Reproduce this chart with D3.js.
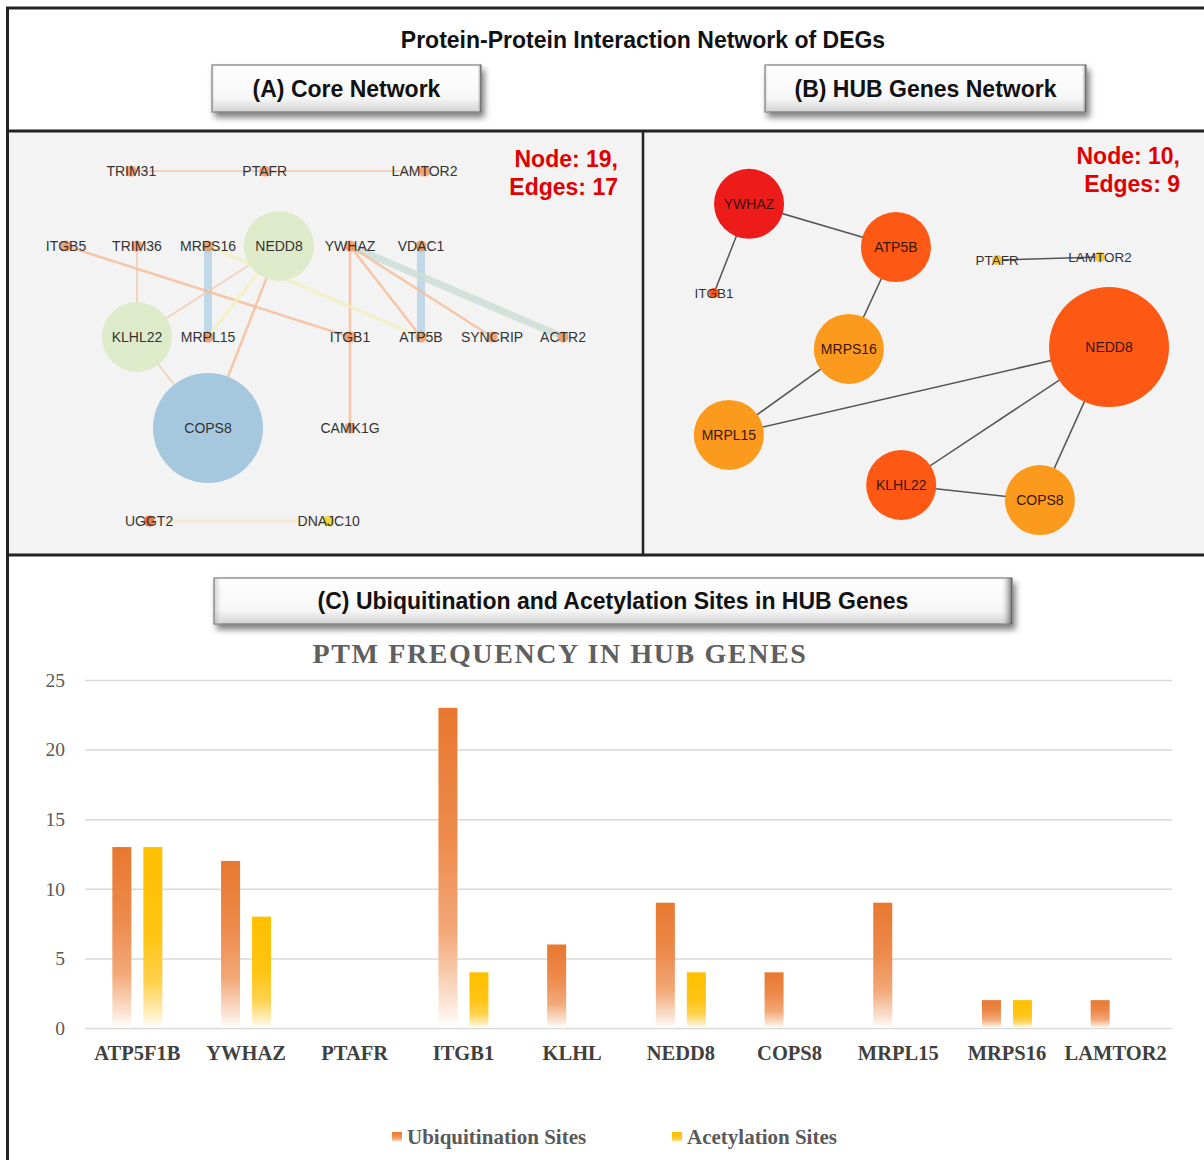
<!DOCTYPE html>
<html>
<head>
<meta charset="utf-8">
<script src="https://cdn.jsdelivr.net/npm/d3@7"></script>
<style>
  body { margin: 0; background: #fff; }
  svg { display: block; }
</style>
</head>
<body>
<svg id="fig" width="1204" height="1160"></svg>
<script>
// ---- data ----
// (A) core network: [name, column, row, group, weight]
var coreNodes = [
    ["TRIM31", 0.92, 0, "gene", 1], ["PTAFR", 2.8, 0, "gene", 1], ["LAMTOR2", 5.05, 0, "gene", 1],
    ["ITGB5", 0, 1, "gene", 1], ["TRIM36", 1, 1, "gene", 1], ["MRPS16", 2, 1, "gene", 1],
    ["NEDD8", 3, 1, "cluster", 2], ["YWHAZ", 4, 1, "gene", 1], ["VDAC1", 5, 1, "gene", 1],
    ["KLHL22", 1, 2, "cluster", 2], ["MRPL15", 2, 2, "gene", 1], ["ITGB1", 4, 2, "gene", 1],
    ["ATP5B", 5, 2, "gene", 1], ["SYNCRIP", 6, 2, "gene", 1], ["ACTR2", 7, 2, "gene", 1],
    ["COPS8", 2, 3, "seed", 3], ["CAMK1G", 4, 3, "gene", 1],
    ["UGGT2", 1.17, 4, "gene2", 1], ["DNAJC10", 3.7, 4, "minor", 1]
];
// [source, target, kind]
var coreEdges = [
    ["TRIM31", "PTAFR", "pale"], ["PTAFR", "LAMTOR2", "pale"],
    ["TRIM36", "KLHL22", "pale"], ["MRPS16", "MRPL15", "blue"],
    ["VDAC1", "ATP5B", "blue"], ["YWHAZ", "ACTR2", "green"],
    ["ITGB5", "ITGB1", "orange"], ["YWHAZ", "ITGB1", "orange"],
    ["ITGB1", "CAMK1G", "orange"], ["YWHAZ", "ATP5B", "orange"],
    ["YWHAZ", "SYNCRIP", "orange"], ["NEDD8", "KLHL22", "pale"],
    ["NEDD8", "COPS8", "orange"], ["KLHL22", "COPS8", "pale"],
    ["MRPS16", "ATP5B", "yellow"], ["MRPL15", "NEDD8", "yellow"],
    ["UGGT2", "DNAJC10", "cream"]
];

// (B) hub network: [name, layoutX, layoutY, rank]
var hubNodes = [
    ["YWHAZ", 12.3, 9.4, 1], ["ATP5B", 42.9, 21.4, 2], ["NEDD8", 87.3, 49.2, 3],
    ["KLHL22", 44, 87.5, 4], ["ITGB1", 5, 34.2, 5], ["MRPS16", 33.1, 49.7, 6],
    ["MRPL15", 8.1, 73.6, 7], ["COPS8", 72.9, 91.7, 8],
    ["PTAFR", 64, 25, 9], ["LAMTOR2", 85.4, 24.2, 10]
];
var hubEdges = [
    ["YWHAZ", "ATP5B"], ["YWHAZ", "ITGB1"], ["ATP5B", "MRPS16"], ["MRPS16", "MRPL15"],
    ["MRPL15", "NEDD8"], ["NEDD8", "KLHL22"], ["NEDD8", "COPS8"], ["KLHL22", "COPS8"],
    ["PTAFR", "LAMTOR2"]
];

// (C) PTM frequency
var genes = ["ATP5F1B", "YWHAZ", "PTAFR", "ITGB1", "KLHL", "NEDD8", "COPS8", "MRPL15", "MRPS16", "LAMTOR2"];
var ubiquitination = [13, 12, 0, 23, 6, 9, 4, 9, 2, 2];
var acetylation = [13, 8, 0, 4, 0, 4, 0, 0, 2, 0];
var seriesNames = ["Ubiquitination Sites", "Acetylation Sites"];
var yTicks = [0, 5, 10, 15, 20, 25];

var sans = "'Liberation Sans', Arial, sans-serif";
var serif = "'Liberation Serif', 'Times New Roman', serif";

var svg = d3.select("#fig");
var defs = svg.append("defs");

// drop shadow for the title buttons
var f = defs.append("filter").attr("id", "shadow")
    .attr("x", "-5%").attr("y", "-20%").attr("width", "115%").attr("height", "170%");
f.append("feDropShadow").attr("dx", 3).attr("dy", 5).attr("stdDeviation", 3)
    .attr("flood-color", "#000").attr("flood-opacity", 0.5);

var bg = defs.append("linearGradient").attr("id", "btn").attr("x1", 0).attr("y1", 0).attr("x2", 0).attr("y2", 1);
bg.append("stop").attr("offset", 0).attr("stop-color", "#ffffff");
bg.append("stop").attr("offset", 0.7).attr("stop-color", "#f7f7f7");
bg.append("stop").attr("offset", 1).attr("stop-color", "#d2d2d2");
var bs = defs.append("linearGradient").attr("id", "btnside").attr("x1", 0).attr("y1", 0).attr("x2", 1).attr("y2", 0);
bs.append("stop").attr("offset", 0).attr("stop-color", "#9a9a9a").attr("stop-opacity", 0.55);
bs.append("stop").attr("offset", 0.012).attr("stop-color", "#fff").attr("stop-opacity", 0);
bs.append("stop").attr("offset", 0.985).attr("stop-color", "#fff").attr("stop-opacity", 0);
bs.append("stop").attr("offset", 1).attr("stop-color", "#444").attr("stop-opacity", 0.75);

function barGradient(id, stops) {
    var g = defs.append("linearGradient").attr("id", id)
        .attr("x1", 0).attr("y1", 0).attr("x2", 0).attr("y2", 1);
    stops.forEach(function(s) {
        g.append("stop").attr("offset", s[0]).attr("stop-color", s[1]);
    });
}
barGradient("gUbi", [[0, "#e8782f"], [0.4, "#ed8a4c"], [0.7, "#f2a877"], [0.92, "#fbe4d4"], [1, "#ffffff"]]);
barGradient("gAce", [[0, "#ffc000"], [0.5, "#ffc414"], [0.75, "#ffd24e"], [0.93, "#fff0c4"], [1, "#ffffff"]]);

// ---- frame ----
svg.append("rect").attr("x", 8).attr("y", 131).attr("width", 1196).attr("height", 424).attr("fill", "#f3f3f3");

var frame = svg.append("g").attr("stroke", "#222").attr("fill", "none");
frame.append("line").attr("x1", 7.5).attr("y1", 7).attr("x2", 7.5).attr("y2", 1160).attr("stroke-width", 3);
frame.append("line").attr("x1", 6).attr("y1", 8).attr("x2", 1204).attr("y2", 8).attr("stroke-width", 3);
frame.append("line").attr("x1", 6).attr("y1", 131).attr("x2", 1204).attr("y2", 131).attr("stroke-width", 3);
frame.append("line").attr("x1", 643).attr("y1", 131).attr("x2", 643).attr("y2", 555).attr("stroke-width", 2.5);
frame.append("line").attr("x1", 6).attr("y1", 555).attr("x2", 1204).attr("y2", 555).attr("stroke-width", 3);

svg.append("text").attr("x", 643).attr("y", 48).attr("text-anchor", "middle")
    .attr("font-family", sans).attr("font-weight", "bold").attr("font-size", 23).attr("fill", "#111")
    .text("Protein-Protein Interaction Network of DEGs");

function button(x, y, w, h, label) {
    var g = svg.append("g");
    g.append("rect").attr("x", x).attr("y", y).attr("width", w).attr("height", h)
        .attr("fill", "url(#btn)").attr("stroke", "#777").attr("stroke-width", 1.2)
        .attr("filter", "url(#shadow)");
    g.append("rect").attr("x", x).attr("y", y).attr("width", w).attr("height", h)
        .attr("fill", "url(#btnside)");
    g.append("text").attr("x", x + w / 2).attr("y", y + h / 2 + 8).attr("text-anchor", "middle")
        .attr("font-family", sans).attr("font-weight", "bold").attr("font-size", 23).attr("fill", "#111")
        .text(label);
}
button(212, 65, 269, 47, "(A) Core Network");
button(765, 65, 321, 47, "(B) HUB Genes Network");
button(214, 578, 798, 46, "(C) Ubiquitination and Acetylation Sites in HUB Genes");

function countLabel(xr, y, n, e) {
    var t = svg.append("text").attr("text-anchor", "end")
        .attr("font-family", sans).attr("font-weight", "bold").attr("font-size", 23).attr("fill", "#e00000");
    t.append("tspan").attr("x", xr).attr("y", y).text("Node: " + n + ",");
    t.append("tspan").attr("x", xr).attr("y", y + 28).text("Edges: " + e);
}

// ---- (A) core network ----
var ax = d3.scaleLinear().domain([0, 1]).range([66, 137]);
var ay = d3.scaleLinear().domain([0, 1, 2, 3, 4]).range([171, 246, 337, 428, 521]);
var aR = d3.scaleLinear().domain([1, 2, 3]).range([5.5, 35, 55]);
var aFill = d3.scaleOrdinal().domain(["gene", "gene2", "minor", "cluster", "seed"])
    .range(["#f0884a", "#e8602e", "#f2d52a", "#deebca", "#a6c8df"]);
var aOpacity = d3.scaleOrdinal().domain(["gene", "gene2", "minor", "cluster", "seed"]).range([0.75, 0.85, 0.9, 1, 1]);
var eStroke = d3.scaleOrdinal().domain(["pale", "orange", "blue", "green", "yellow", "cream"])
    .range(["#f3c8ab", "#f5bc95", "#b4d1e5", "#c9ddd5", "#f4f0bd", "#f6e8cf"]);
var eWidth = d3.scaleOrdinal().domain(["pale", "orange", "blue", "green", "yellow", "cream"])
    .range([1.8, 2.5, 8, 7, 3, 3.5]);

var coreByName = {};
coreNodes.forEach(function(d) {
    coreByName[d[0]] = { name: d[0], x: ax(d[1]), y: ay(d[2]), group: d[3], w: d[4] };
});

var gA = svg.append("g");
gA.selectAll("line").data(coreEdges).enter().append("line")
    .attr("x1", function(d) { return coreByName[d[0]].x; })
    .attr("y1", function(d) { return coreByName[d[0]].y; })
    .attr("x2", function(d) { return coreByName[d[1]].x; })
    .attr("y2", function(d) { return coreByName[d[1]].y; })
    .attr("stroke", function(d) { return eStroke(d[2]); })
    .attr("stroke-width", function(d) { return eWidth(d[2]); })
    .attr("stroke-opacity", 0.8);

var aNode = gA.selectAll("g.node").data(coreNodes.map(function(d) { return coreByName[d[0]]; }))
    .enter().append("g").attr("class", "node");
aNode.append("circle")
    .attr("cx", function(d) { return d.x; })
    .attr("cy", function(d) { return d.y; })
    .attr("r", function(d) { return aR(d.w); })
    .attr("fill", function(d) { return aFill(d.group); })
    .attr("fill-opacity", function(d) { return aOpacity(d.group); });
aNode.append("text")
    .attr("x", function(d) { return d.x; })
    .attr("y", function(d) { return d.y + 5; })
    .attr("text-anchor", "middle")
    .attr("font-family", sans).attr("font-size", 14).attr("fill", "#333")
    .text(function(d) { return d.name; });

countLabel(618, 167, coreNodes.length, coreEdges.length);

// ---- (B) hub genes network ----
var bx = d3.scaleLinear().domain([0, 100]).range([690, 1170]);
var by = d3.scaleLinear().domain([0, 100]).range([170, 530]);
var degree = {};
hubEdges.forEach(function(e) {
    degree[e[0]] = (degree[e[0]] || 0) + 1;
    degree[e[1]] = (degree[e[1]] || 0) + 1;
});
var bR = d3.scaleLinear().domain([1, 2, 3]).range([5, 35, 60]);
var bFill = d3.scaleThreshold().domain([2, 6, 9]).range(["#ee1b1b", "#fd5915", "#fb9a1c", "#f7c53c"]);

var hubByName = {};
hubNodes.forEach(function(d) {
    hubByName[d[0]] = { name: d[0], x: bx(d[1]), y: by(d[2]), rank: d[3], deg: degree[d[0]] };
});

var gB = svg.append("g");
gB.selectAll("line").data(hubEdges).enter().append("line")
    .attr("x1", function(d) { return hubByName[d[0]].x; })
    .attr("y1", function(d) { return hubByName[d[0]].y; })
    .attr("x2", function(d) { return hubByName[d[1]].x; })
    .attr("y2", function(d) { return hubByName[d[1]].y; })
    .attr("stroke", "#555").attr("stroke-width", 1.5);

var bNode = gB.selectAll("g.node").data(hubNodes.map(function(d) { return hubByName[d[0]]; }))
    .enter().append("g").attr("class", "node");
bNode.append("circle")
    .attr("cx", function(d) { return d.x; })
    .attr("cy", function(d) { return d.y; })
    .attr("r", function(d) { return bR(d.deg); })
    .attr("fill", function(d) { return bFill(d.rank); });
bNode.append("text")
    .attr("x", function(d) { return d.x; })
    .attr("y", function(d) { return d.y + 5; })
    .attr("text-anchor", "middle")
    .attr("font-family", sans)
    .attr("font-size", function(d) { return d.deg > 1 ? 14 : 13.5; })
    .attr("fill", function(d) { return d.deg > 1 ? "#3a150a" : "#333"; })
    .text(function(d) { return d.name; });

countLabel(1180, 164, hubNodes.length, hubEdges.length);

// ---- (C) bar chart ----
var x0 = d3.scaleBand().domain(genes).range([83, 1170]);
var x1 = d3.scaleBand().domain(seriesNames).range([-25, 25]).paddingInner(0.387);
var y = d3.scaleLinear().domain([0, 25]).range([1028, 680]);
var barFill = d3.scaleOrdinal().domain(seriesNames).range(["url(#gUbi)", "url(#gAce)"]);

svg.append("text").attr("x", 560).attr("y", 663).attr("text-anchor", "middle")
    .attr("font-family", serif).attr("font-weight", "bold").attr("font-size", 28)
    .attr("letter-spacing", 1.6).attr("fill", "#5f5f5f")
    .text("PTM FREQUENCY IN HUB GENES");

var yAxis = svg.append("g").attr("transform", "translate(85,0)")
    .call(d3.axisLeft(y).tickValues(yTicks).tickSize(-1087).tickPadding(20));
yAxis.select(".domain").remove();
yAxis.selectAll(".tick line").attr("stroke", "#d9d9d9").attr("stroke-width", 1.5);
yAxis.selectAll(".tick text").attr("font-family", serif).attr("font-size", 19.5).attr("fill", "#595959");

var xAxis = svg.append("g").attr("transform", "translate(0,1028)")
    .call(d3.axisBottom(x0).tickSize(0).tickPadding(17));
xAxis.select(".domain").remove();
xAxis.selectAll(".tick text").attr("font-family", serif).attr("font-weight", "bold")
    .attr("font-size", 20.5).attr("fill", "#404040");

var rows = genes.map(function(g, i) {
    return { gene: g, values: [ubiquitination[i], acetylation[i]] };
});
var grp = svg.append("g").selectAll("g").data(rows).enter().append("g")
    .attr("transform", function(d) { return "translate(" + (x0(d.gene) + x0.bandwidth() / 2) + ",0)"; });
grp.selectAll("rect")
    .data(function(d) { return seriesNames.map(function(s, j) { return { key: s, value: d.values[j] }; }); })
    .enter().filter(function(d) { return d.value > 0; }).append("rect")
    .attr("x", function(d) { return x1(d.key); })
    .attr("y", function(d) { return y(d.value); })
    .attr("width", x1.bandwidth())
    .attr("height", function(d) { return y(0) - y(d.value); })
    .attr("fill", function(d) { return barFill(d.key); });

// legend
var legX = d3.scaleOrdinal().domain(seriesNames).range([392, 672]);
var leg = svg.append("g").selectAll("g").data(seriesNames).enter().append("g")
    .attr("transform", function(d) { return "translate(" + legX(d) + ",1132)"; });
leg.append("rect").attr("width", 10).attr("height", 10).attr("fill", function(d) { return barFill(d); });
leg.append("text").attr("x", 15).attr("y", 12)
    .attr("font-family", serif).attr("font-weight", "bold").attr("font-size", 21).attr("fill", "#595959")
    .text(function(d) { return d; });
</script>
</body>
</html>
